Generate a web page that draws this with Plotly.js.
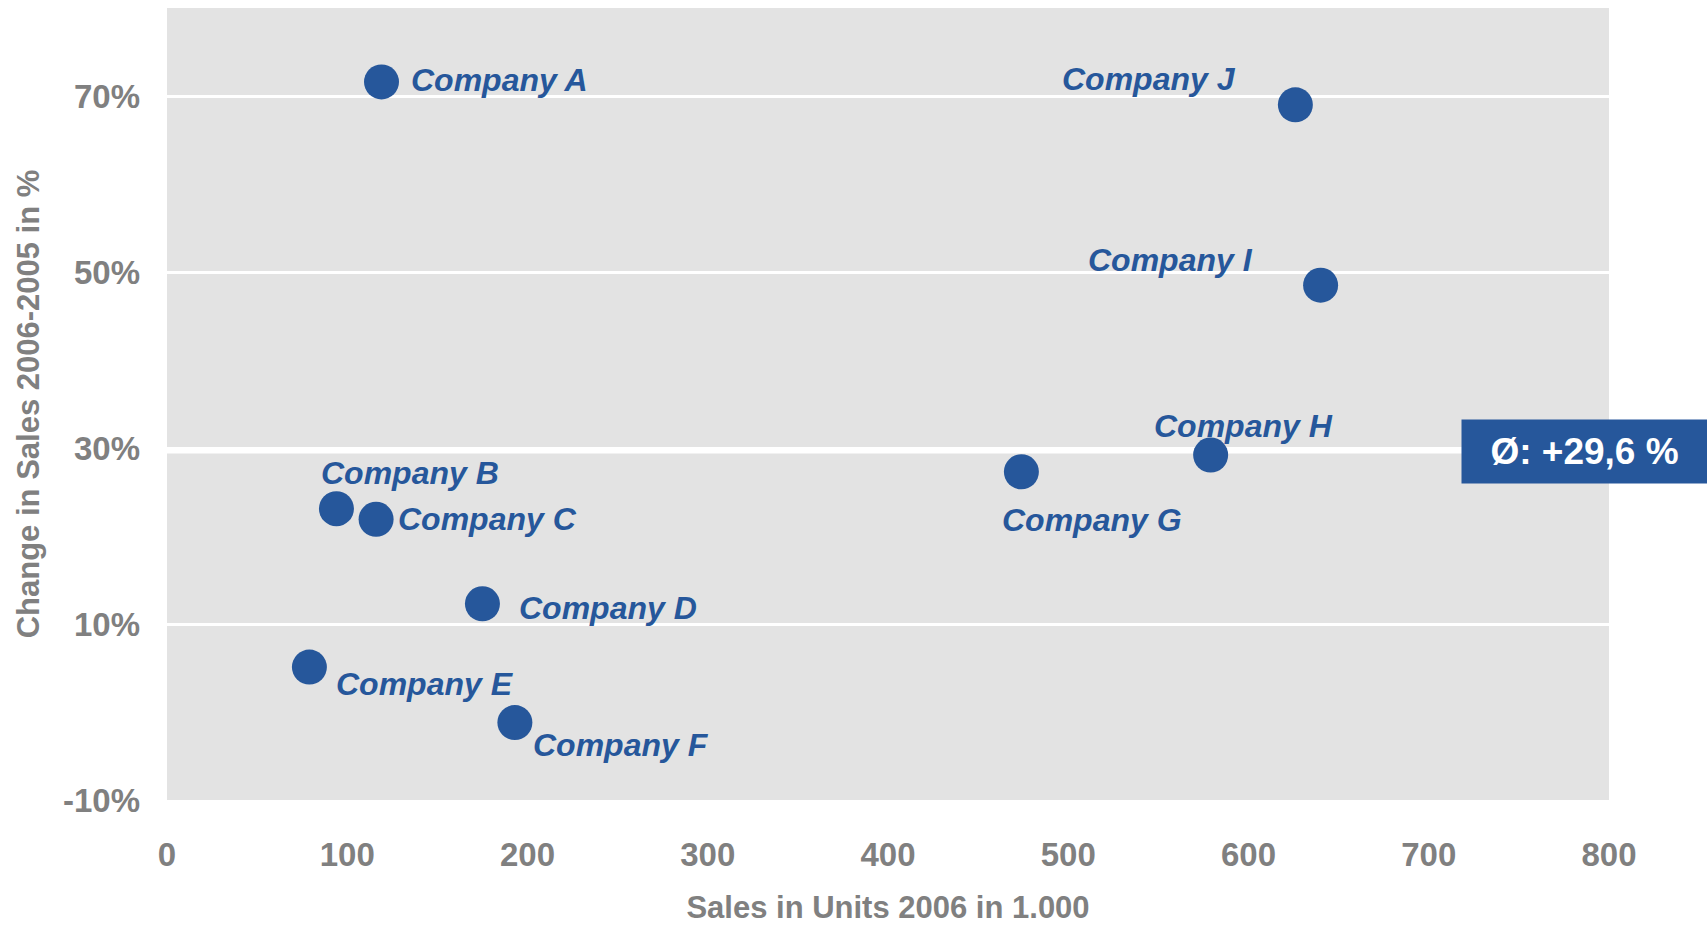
<!DOCTYPE html>
<html>
<head>
<meta charset="utf-8">
<script src="https://cdn.plot.ly/plotly-3.0.1.min.js"></script>
<style>
html,body{margin:0;padding:0;background:#fff;}
#chart{width:1707px;height:925px;}
</style>
</head>
<body>
<div id="chart"></div>
<script>
// ---- data ----
var companies = ["Company A","Company B","Company C","Company D","Company E","Company F","Company G","Company H","Company I","Company J"];
var salesUnits = [119, 94, 116, 175, 79, 193, 474, 579, 640, 626];
var salesChange = [0.716, 0.231, 0.219, 0.123, 0.051, -0.012, 0.273, 0.292, 0.485, 0.690];
var averageChange = 0.296;
var averageLabel = "Ø: +29,6 %";
var yTickVals = [-0.1, 0.1, 0.3, 0.5, 0.7];
var yTickText = ["-10%", "10%", "30%", "50%", "70%"];
var xTitle = "Sales in Units 2006 in 1.000";
var yTitle = "Change in Sales 2006-2005 in %";

// ---- label placement (layout only) ----
var labelPlacement = [
  {anchor:"left",  dx: 27,  dy: 2},
  {anchor:"left",  dx: -17, dy: 36},
  {anchor:"left",  dx: 20,  dy: 0},
  {anchor:"left",  dx: 35,  dy: -4},
  {anchor:"left",  dx: 25,  dy: -17},
  {anchor:"left",  dx: 16,  dy: -22},
  {anchor:"left",  dx: -21, dy: -48},
  {anchor:"left",  dx: -59, dy: 29},
  {anchor:"right", dx: -66, dy: 25},
  {anchor:"right", dx: -57, dy: 26}
];

var blue = "#26579B";
var grey = "#808080";
var fontFam = "Liberation Sans, Arial, sans-serif";

var trace = {
  type: "scatter",
  mode: "markers",
  x: salesUnits,
  y: salesChange,
  text: companies,
  marker: {color: blue, size: 35, line: {width: 0}},
  hoverinfo: "text+x+y",
  cliponaxis: false
};

var annotations = companies.map(function(name, i){
  var p = labelPlacement[i];
  return {
    x: salesUnits[i], y: salesChange[i], xref: "x", yref: "y",
    text: name, showarrow: false,
    xanchor: p.anchor, yanchor: "middle",
    xshift: p.dx, yshift: p.dy,
    font: {family: fontFam, size: 32, color: blue, weight: 700, style: "italic"}
  };
});

annotations.push({
  x: 0.983, xref: "paper", y: averageChange, yref: "y",
  text: averageLabel, showarrow: false,
  xanchor: "center", yanchor: "middle",
  width: 245, height: 63, borderpad: 0,
  bgcolor: blue,
  font: {family: fontFam, size: 37, color: "#ffffff", weight: 700}
});

var layout = {
  width: 1707, height: 925,
  margin: {l: 167, r: 98, t: 8, b: 125},
  paper_bgcolor: "#ffffff",
  plot_bgcolor: "#E3E3E3",
  showlegend: false,
  xaxis: {
    range: [0, 800], dtick: 100, tick0: 0,
    showgrid: false, zeroline: false, showline: false,
    ticks: "", ticklabelstandoff: 32,
    tickfont: {family: fontFam, size: 33, color: grey, weight: 700},
    title: {text: xTitle, standoff: 27, font: {family: fontFam, size: 31, color: grey, weight: 700}}
  },
  yaxis: {
    range: [-0.1, 0.8],
    tickvals: yTickVals, ticktext: yTickText,
    showgrid: true, gridcolor: "#ffffff", gridwidth: 3,
    zeroline: false, showline: false,
    ticks: "", ticklabelstandoff: 26,
    tickfont: {family: fontFam, size: 33, color: grey, weight: 700},
    title: {text: yTitle, standoff: 14, font: {family: fontFam, size: 31, color: grey, weight: 700}}
  },
  shapes: [{
    type: "line", xref: "paper", x0: 0, x1: 1, yref: "y", y0: averageChange, y1: averageChange,
    line: {color: "#ffffff", width: 4}, layer: "below"
  }],
  annotations: annotations
};

Plotly.newPlot("chart", [trace], layout, {displayModeBar: false, staticPlot: true});
</script>
</body>
</html>
